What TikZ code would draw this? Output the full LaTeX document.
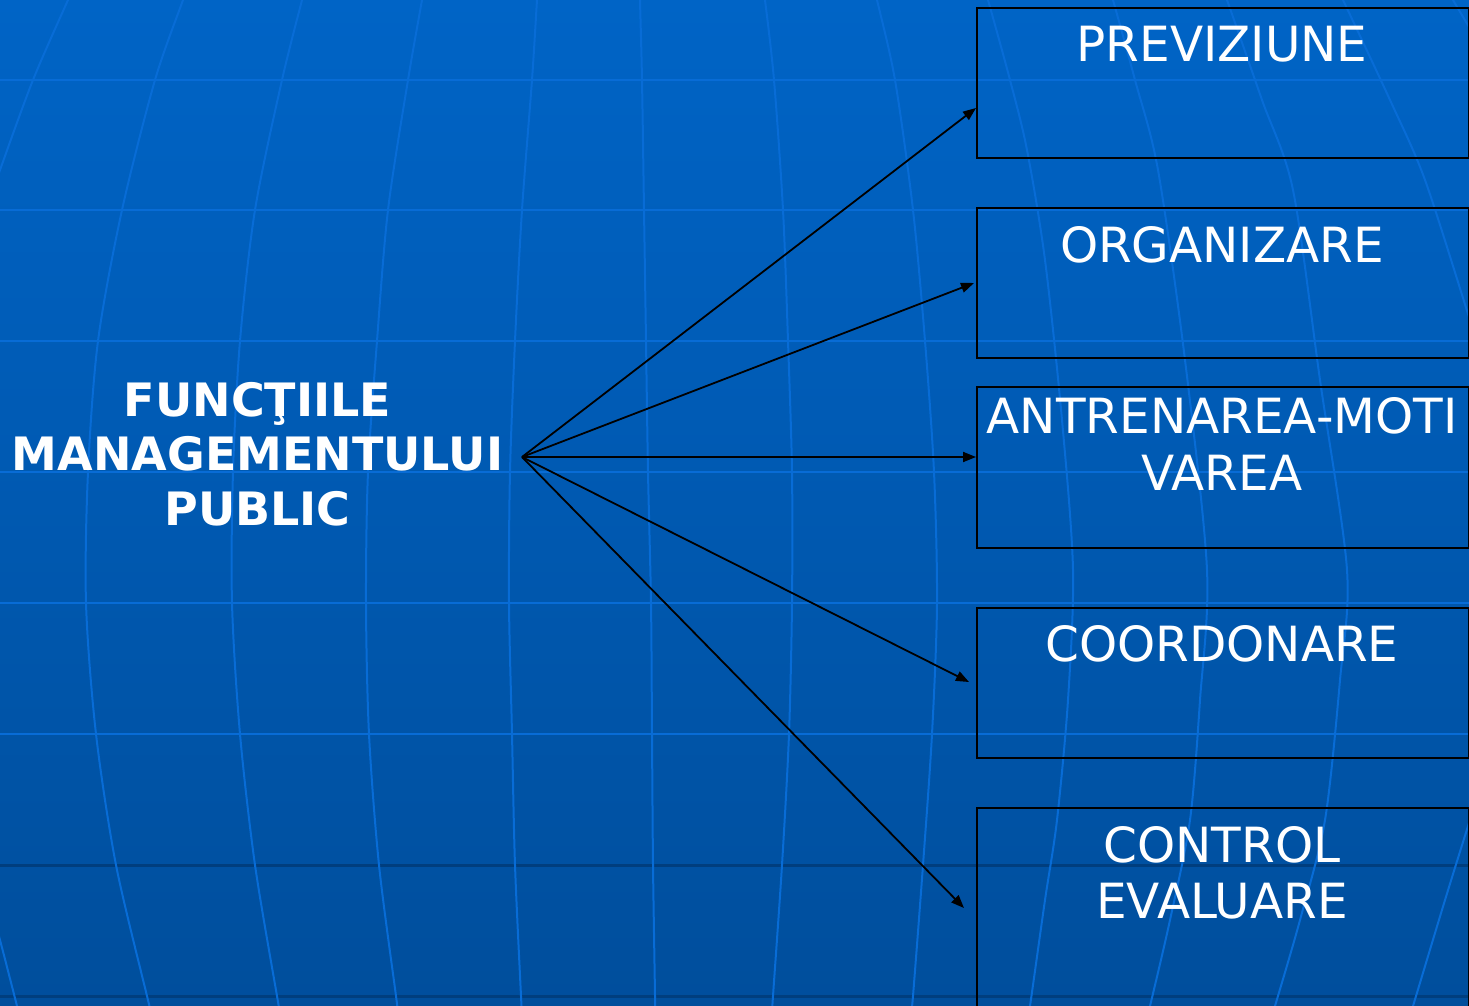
\documentclass[tikz,border=0pt]{standalone}
\usepackage{fontspec}
\setmainfont{DejaVu Sans}
\usetikzlibrary{arrows.meta}
\definecolor{bgtop}{RGB}{0,100,198}
\definecolor{bgbot}{RGB}{0,78,156}
\definecolor{gridl}{RGB}{8,108,214}
\definecolor{gridd}{RGB}{0,62,126}
\begin{document}
\begin{tikzpicture}[x=1pt,y=-1pt,
  box/.style={draw=black,line width=2pt},
  lbl/.style={text=white,font=\fontsize{48.5}{57}\selectfont,inner sep=0pt,anchor=base},
  ttl/.style={text=white,font=\fontsize{46}{55}\selectfont\bfseries,inner sep=0pt,anchor=base},
  arr/.style={draw=black,line width=1.8pt,-{Triangle[length=13pt,width=10pt]}},
  mer/.style={draw=gridl,line width=2pt},
  hlight/.style={draw=gridl,line width=2.6pt},
  hdark/.style={draw=gridd,line width=3pt}]
\useasboundingbox (0,0) rectangle (1469,1006);
\clip (0,0) rectangle (1469,1006);
% background
\fill[top color=bgtop,bottom color=bgbot] (0,0) rectangle (1469,1006);
% horizontal grid lines
\foreach \yy in {80,210,341,472,603,734} {\draw[hlight] (0,\yy) -- (1469,\yy);}
\foreach \yy in {865,996} {\draw[hdark] (0,\yy) -- (1469,\yy);}
% meridians
\draw[mer] plot[smooth] coordinates {(75,-15)(68,0)(33,80)(0,170)(-12,205)};
\draw[mer] plot[smooth] coordinates {(-6,920)(0,940)(17,1006)(19,1015)};
\draw[mer] plot[smooth] coordinates {(187,-12)(183,0)(155,80)(122,210)(98,341)(88,472)(86,603)(96,734)(116,865)(147,996)(151,1012)};
\draw[mer] plot[smooth] coordinates {(305,-12)(302,0)(282,80)(255,210)(240,341)(233,472)(232,603)(240,734)(255,865)(277,996)(280,1012)};
\draw[mer] plot[smooth] coordinates {(424,-12)(422,0)(408,80)(388,210)(377,341)(368,472)(366,603)(369,734)(379,865)(396,996)(398,1012)};
\draw[mer] plot[smooth] coordinates {(538,-12)(537,0)(532,80)(522,210)(515,341)(510,472)(509,603)(512,734)(515,865)(521,996)(522,1012)};
\draw[mer] plot[smooth] coordinates {(640,-12)(640,0)(642,80)(644,210)(646,341)(648,472)(651,603)(652,734)(653,865)(655,996)(655,1012)};
\draw[mer] plot[smooth] coordinates {(763,-12)(765,0)(774,80)(783,210)(788,341)(792,472)(792,603)(789,734)(782,865)(773,996)(772,1012)};
\draw[mer] plot[smooth] coordinates {(874,-12)(877,0)(895,80)(913,210)(925,341)(934,472)(937,603)(932,734)(923,865)(913,996)(911,1012)};
\draw[mer] plot[smooth] coordinates {(984,-12)(988,0)(1010,80)(1027,150)(1045,260)(1062,420)(1073,570)(1068,700)(1057,820)(1045,900)(1030,1006)(1028,1015)};
\draw[mer] plot[smooth] coordinates {(1109,-12)(1113,0)(1135,80)(1158,170)(1185,360)(1207,570)(1200,700)(1190,820)(1170,920)(1150,1006)(1147,1015)};
\draw[mer] plot[smooth] coordinates {(1222,-12)(1227,0)(1262,100)(1293,190)(1320,380)(1347,570)(1340,680)(1325,820)(1300,920)(1275,1006)(1272,1015)};
\draw[mer] plot[smooth] coordinates {(1337,-12)(1343,0)(1390,100)(1425,180)(1469,317)(1480,350)};
\draw[mer] plot[smooth] coordinates {(1480,790)(1469,823)(1445,900)(1413,1006)(1410,1015)};
\draw[mer] plot[smooth] coordinates {(1448,-10)(1453,0)(1469,27)(1476,40)};
% title
\node[ttl] (t1) at (257.5,416) {FUNCŢIILE};
\node[ttl] (t2) at (257.5,470) {MANAGEMENTULUI};
\node[ttl] (t3) at (257.5,525) {PUBLIC};
% boxes
\node[box,anchor=north west,minimum width=492pt,minimum height=150pt,inner sep=0pt] (b1) at (976,7) {};
\node[box,anchor=north west,minimum width=492pt,minimum height=150pt,inner sep=0pt] (b2) at (976,207) {};
\node[box,anchor=north west,minimum width=492pt,minimum height=161pt,inner sep=0pt] (b3) at (976,386) {};
\node[box,anchor=north west,minimum width=492pt,minimum height=150pt,inner sep=0pt] (b4) at (976,607) {};
\node[box,anchor=north west,minimum width=492pt,minimum height=220pt,inner sep=0pt] (b5) at (976,807) {};
% box labels
\node[lbl] (l1) at (1222,62) {PREVIZIUNE};
\node[lbl] (l2) at (1222,262) {ORGANIZARE};
\node[lbl] (l3a) at (1222,433) {ANTRENAREA-MOTI};
\node[lbl] (l3b) at (1222,490) {VAREA};
\node[lbl] (l4) at (1222,661) {COORDONARE};
\node[lbl] (l5a) at (1222,862) {CONTROL};
\node[lbl] (l5b) at (1222,918) {EVALUARE};
% connectors
\coordinate (o) at (522,457);
\coordinate (e1) at (976,108);
\coordinate (e2) at (974,283);
\coordinate (e3) at (976,457);
\coordinate (e4) at (969,682);
\coordinate (e5) at (964,908);
\draw[arr] (o) -- (e1);
\draw[arr] (o) -- (e2);
\draw[arr] (o) -- (e3);
\draw[arr] (o) -- (e4);
\draw[arr] (o) -- (e5);
\end{tikzpicture}
\end{document}
